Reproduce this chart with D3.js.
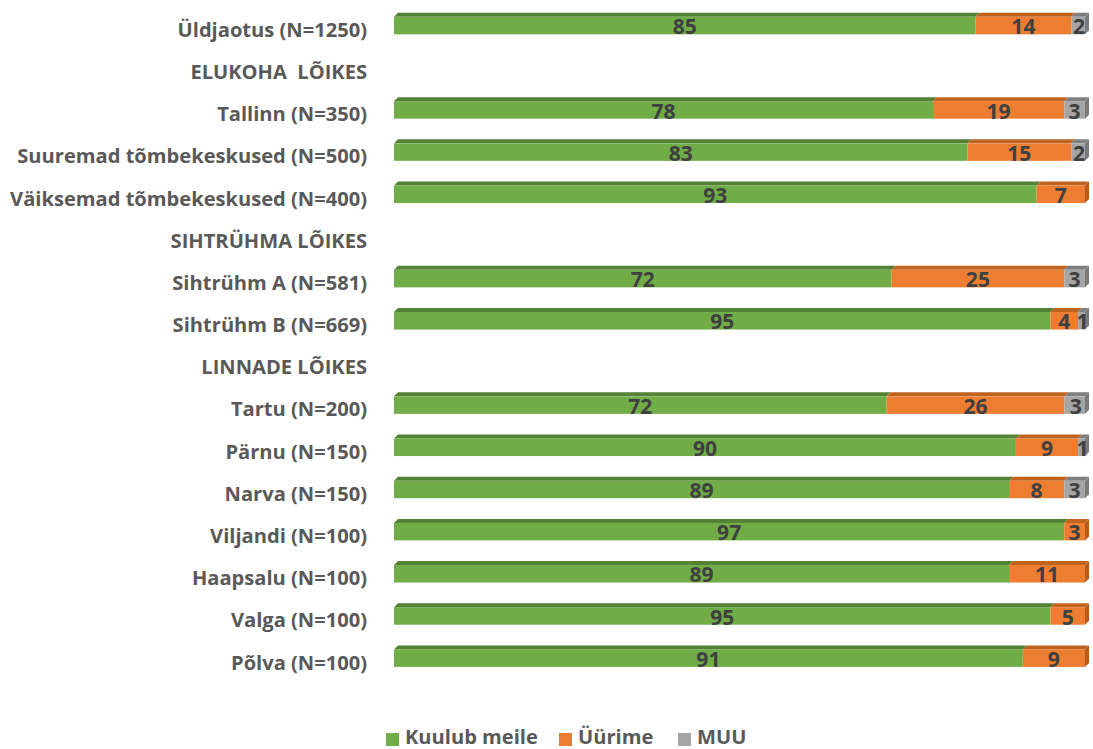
<!DOCTYPE html>
<html><head><meta charset="utf-8">
<script src="https://cdn.jsdelivr.net/npm/d3@7/dist/d3.min.js"></script>
<style>
html,body{margin:0;padding:0;background:#fff;}
svg{display:block;}
text{font-family:"Open Sans","DejaVu Sans",sans-serif;font-weight:700;}
</style></head>
<body>
<svg id="chart" width="1093" height="749"></svg>
<script>
const categories = ["Üldjaotus (N=1250)", "ELUKOHA  LÕIKES", "Tallinn (N=350)", "Suuremad tõmbekeskused (N=500)", "Väiksemad tõmbekeskused (N=400)", "SIHTRÜHMA LÕIKES", "Sihtrühm A (N=581)", "Sihtrühm B (N=669)", "LINNADE LÕIKES", "Tartu (N=200)", "Pärnu (N=150)", "Narva (N=150)", "Viljandi (N=100)", "Haapsalu (N=100)", "Valga (N=100)", "Põlva (N=100)"];
const kuulubMeile = [85, null, 78, 83, 93, null, 72, 95, null, 72, 90, 89, 97, 89, 95, 91];
const uurime      = [14, null, 19, 15, 7,  null, 25, 4,  null, 26, 9,  8,  3,  11, 5,  9];
const muu         = [2,  null, 3,  2,  0,  null, 3,  1,  null, 3,  1,  3,  0,  0,  0,  0];
const seriesNames = ["Kuulub meile", "Üürime", "MUU"];

const colors = ["#70AD47", "#ED7D31", "#A5A5A5"];
const topColors = ["#548235", "#C0631F", "#7F7F7F"];
const sideColors = ["#5A8C3A", "#B85B1A", "#7A7A7A"];

const svg = d3.select("#chart");
const left = 394, right = 1085;
const rowTop = 4.5, rowStep = 42.17;
const barH = 17.5, depth = 4;

const x = d3.scaleLinear().domain([0, 1]).range([left, right]);
const y = d3.scaleBand().domain(categories).range([rowTop, rowTop + rowStep * categories.length]).paddingInner(0).paddingOuter(0);

// category labels
const labelFont = 17;
const lab = svg.append("g").selectAll("text").data(categories).join("text")
  .attr("x", 367)
  .attr("y", d => y(d) + y.bandwidth() / 2 + 6)
  .attr("text-anchor", "end")
  .attr("dominant-baseline", "middle")
  .attr("fill", "#595959")
  .attr("font-size", labelFont)
  .style("white-space", "pre")
  .text(d => d);
let maxW = 0;
lab.each(function(){ maxW = Math.max(maxW, this.getComputedTextLength()); });
const fs = labelFont * 357 / maxW;
lab.attr("font-size", fs);

const data = categories.map((c, i) => {
  if (kuulubMeile[i] == null) return null;
  const vals = [kuulubMeile[i], uurime[i], muu[i]];
  const total = d3.sum(vals);
  let acc = 0;
  const segs = vals.map((v, k) => { const s = {k, v, x0: acc / total, x1: (acc + v) / total}; acc += v; return s; }).filter(s => s.v > 0);
  return {c, segs};
}).filter(d => d);

const bars = svg.append("g");
data.forEach(d => {
  const yFront = y(d.c) + y.bandwidth() / 2 - barH / 2;
  const g = bars.append("g");
  d.segs.forEach((s, idx) => {
    const x0 = x(s.x0), x1 = x(s.x1);
    g.append("path")
      .attr("d", `M${x0},${yFront} L${x1},${yFront} L${x1 + depth},${yFront - depth} L${x0 + depth},${yFront - depth} Z`)
      .attr("fill", topColors[s.k]);
    g.append("rect").attr("x", x0).attr("y", yFront).attr("width", Math.max(0, x1 - x0)).attr("height", barH)
      .attr("fill", colors[s.k]);
    if (idx === d.segs.length - 1) {
      g.append("path")
        .attr("d", `M${x1},${yFront} L${x1 + depth},${yFront - depth} L${x1 + depth},${yFront - depth + barH} L${x1},${yFront + barH} Z`)
        .attr("fill", sideColors[s.k]);
    }
  });
  d.segs.forEach(s => {
    g.append("text")
      .attr("x", (x(s.x0) + x(s.x1)) / 2 + (s.x1 - s.x0 < 0.03 ? 1 : 0))
      .attr("y", yFront + barH / 2 + 3)
      .attr("text-anchor", "middle")
      .attr("dominant-baseline", "middle")
      .attr("fill", "#404040")
      .attr("font-size", fs + 1)
      .text(s.v);
  });
});

// legend
const legendItems = [
  {name: seriesNames[0], sx: 386, tx: 405},
  {name: seriesNames[1], sx: 559, tx: 578},
  {name: seriesNames[2], sx: 678, tx: 697}
];
const lg = svg.append("g");
legendItems.forEach((it, i) => {
  lg.append("rect").attr("x", it.sx).attr("y", 733).attr("width", 13).attr("height", 13).attr("fill", colors[i]);
  lg.append("text").attr("x", it.tx).attr("y", 739).attr("dominant-baseline", "middle")
    .attr("fill", "#595959").attr("font-size", fs).text(it.name);
});
</script>
</body></html>
